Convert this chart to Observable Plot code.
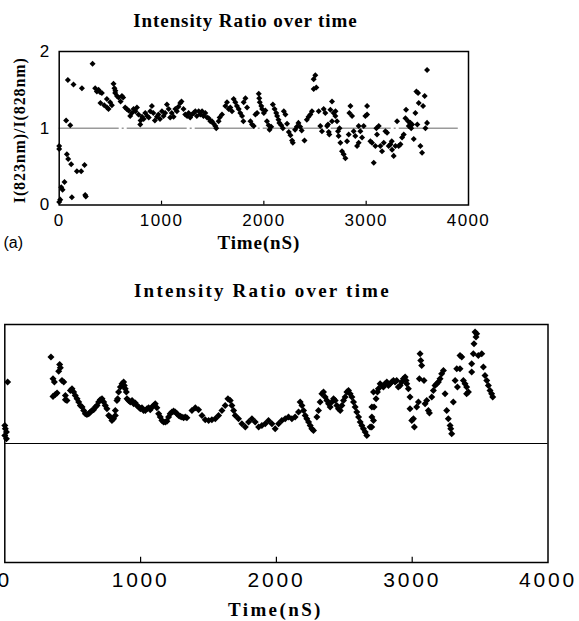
<!DOCTYPE html>
<html><head><meta charset="utf-8">
<script src="https://cdn.jsdelivr.net/npm/d3@7"></script>
<script src="https://cdn.jsdelivr.net/npm/@observablehq/plot@0.6"></script>
<style>
body{margin:0;background:#fff;}
#wrap{position:relative;width:579px;height:621px;overflow:hidden;background:#fff;}
#p1,#p2{position:absolute;left:0;}
#p1{top:0;}
#p2{top:270px;}
#p1 g[aria-label="x-axis tick label"], #p1 g[aria-label="y-axis tick label"]{letter-spacing:1.4px;}
#p2 g[aria-label="x-axis tick label"]{letter-spacing:2.8px;}
</style>
</head><body>
<div id="wrap"><div id="p1"></div><div id="p2"></div></div>
<script>
// ---- data: panel (a) ----
const titleText = "Intensity Ratio over time";
const xLabel = "Time(nS)";
const yLabel = "I(823nm)/I(828nm)";
const xTicks = [0, 1000, 2000, 3000, 4000];
const yTicksA = [0, 1, 2];

const topTime = [0,0,0,10,20,33,52,68,75,85,88,108,117,124,140,173,215,222,248,254,260,326,
352,368,385,400,403,417,440,466,468,482,498,515,531,540,547,549,565,580,600,613,625,645,660,678,694,710,727,745,760,775,792,795,809,825,841,860,875,890,906,920,935,955,970,985,1004,1020,1035,1053,1070,1085,1100,1118,1135,1150,1165,1183,1195,1215,1232,1250,1265,1280,1298,1314,
1330,1345,1363,1380,1396,1410,1428,1445,1461,1477,1493,1510,1526,1535,1558,1568,1591,1624,1640,1656,1672,1689,1705,1721,1737,1754,1770,1787,1800,1803,1820,1836,1869,1885,1901,1918,1934,1950,1955,1960,1975,1983,2000,2015,2030,2047,2056,2072,2088,2105,2121,2130,2143,2152,2170,2186,2195,2211,2227,2244,2260,2276,2283,2305,2322,2338,2355,2370,2397,2420,2437,2454,2470,2487,2503,2487,2513,2536,2552,2568,2585,2601,2618,2634,
2627,2640,2650,2666,2666,2682,2699,2700,2715,2725,2731,2740,2748,2764,2780,2797,2813,2829,2836,2846,2862,2878,2894,2911,2927,2927,2943,2960,2976,2992,3009,3009,3041,3057,3074,3090,3100,3106,3123,3139,3155,3172,3188,3204,3220,3237,3250,3253,3269,3286,3302,3318,3335,3351,3367,3384,3390,3410,3416,3432,3440,3449,3465,3481,3491,3500,3507,3514,3530,3546,3556,3572,3579,3595,3595];
const topRatio = [0.77,0.73,0.04,0.07,0.23,0.20,0.30,1.10,0.66,1.63,0.60,1.04,0.53,0.10,1.57,0.44,0.44,1.52,0.52,0.13,0.11,1.84,
1.52,1.48,1.50,1.47,1.33,1.46,1.30,1.38,1.27,1.25,1.34,1.30,1.58,1.52,1.46,1.49,1.42,1.40,1.35,1.42,1.40,1.27,1.25,1.23,1.16,1.20,1.25,1.22,1.27,1.18,1.05,1.10,1.15,1.12,1.20,1.16,1.14,1.22,1.29,1.20,1.10,1.15,1.18,1.12,1.22,1.16,1.20,1.31,1.25,1.14,1.20,1.15,1.25,1.22,1.28,1.33,1.35,1.25,1.18,1.16,1.20,1.14,1.18,1.20,
1.22,1.16,1.22,1.18,1.22,1.16,1.20,1.14,1.13,1.09,1.09,1.06,1.03,1.00,1.09,1.14,1.18,1.29,1.34,1.25,1.27,1.22,1.38,1.34,1.29,1.25,1.20,1.16,1.09,1.34,1.39,1.27,1.09,1.05,1.03,1.18,1.20,1.45,1.39,1.34,1.29,1.25,1.20,1.23,1.09,1.04,0.98,1.02,1.31,1.25,1.20,1.16,1.11,1.07,1.04,1.00,1.22,1.18,1.06,0.95,0.91,0.84,0.81,0.98,1.02,1.07,1.02,0.97,0.84,1.11,1.15,1.18,1.22,1.64,1.69,1.51,1.53,1.22,1.03,0.96,1.25,1.20,1.03,0.95,
1.05,0.92,1.24,1.35,1.09,1.20,1.16,1.22,1.09,0.96,0.90,1.00,0.81,0.70,0.66,0.61,0.83,0.92,1.20,1.29,1.16,0.96,0.90,0.77,0.81,1.03,0.96,0.88,1.03,1.16,1.29,1.18,0.83,0.81,0.55,0.77,1.00,0.92,1.03,0.77,0.70,0.81,0.96,0.94,0.77,0.79,0.83,0.72,0.64,0.77,1.09,0.77,0.79,0.88,0.92,1.13,1.24,1.09,1.03,1.07,1.00,1.05,0.86,1.20,1.48,1.05,1.46,1.33,0.77,0.68,1.29,1.42,1.00,1.07,1.76];

// ---- data: panel (b) ----
const bottomTime = [0,4,12,0,12,21,340,404,409,397,355,365,421,434,355,372,385,446,446,458,483,495,507,519,532,544,556,569,581,593,605,618,630,642,654,667,679,691,703,716,728,740,752,765,777,789,801,814,814,826,831,838,851,863,875,880,887,895,900,912,924,937,949,961,973,986,998,1010,1022,1035,1047,1059,1071,1084,1096,1108,1120,1133,1145,1157,1169,1182,1194,1206,1218,1231,1243,1255,1268,1280,1292,1304,1317,1329,1341,
1378,1403,1427,1452,1476,1501,1525,1550,1574,1599,1623,1643,1660,1672,1685,1697,1721,1746,1771,1795,1820,1844,1869,1893,1918,1942,1967,1991,2016,2040,2065,2089,2114,2138,2163,2175,2188,2200,2212,2224,2237,2249,2261,2273,2298,2310,2322,2335,2347,2359,2372,2384,2396,2408,2421,2433,2445,2457,2470,2482,2494,2506,2519,2531,2543,2556,2568,2580,2592,2605,2617,2629,2641,2654,2666,2690,2703,2703,2715,
2702,2715,2719,2734,2744,2751,2764,2776,2788,2800,2813,2825,2837,2849,2862,2874,2886,2898,2911,2923,2935,2948,2955,2960,2972,2984,2984,2997,3009,3016,3033,3046,3058,3063,3070,3053,3087,3095,3107,3119,3127,3144,3156,3168,3181,3193,3205,3217,3230,3242,3254,3266,3279,3284,3291,3303,3316,3328,3333,3352,3365,3352,3377,3389,3401,3414,3401,3438,3438,3450,3455,3470,3475,3463,3487,3512,3524,3536,3549,3561,3573,3585,3593];
const bottomRatio = [1.152,1.124,1.096,1.068,1.040,1.516,1.726,1.664,1.636,1.608,1.544,1.516,1.530,1.516,1.396,1.412,1.424,1.404,1.368,1.362,1.446,1.460,1.432,1.404,1.376,1.348,1.320,1.306,1.278,1.250,1.244,1.250,1.264,1.278,1.284,1.306,1.320,1.348,1.368,1.376,1.348,1.320,1.292,1.236,1.222,1.194,1.208,1.278,1.236,1.362,1.376,1.432,1.474,1.502,1.516,1.488,1.460,1.432,1.376,1.362,1.348,1.362,1.334,1.340,1.320,1.306,1.292,1.300,1.278,1.278,1.292,1.300,1.284,1.306,1.320,1.334,1.300,1.250,1.222,1.194,1.180,1.180,1.188,1.222,1.250,1.264,1.272,1.264,1.250,1.236,1.228,1.222,1.216,1.222,1.216,
1.278,1.300,1.284,1.236,1.200,1.194,1.200,1.208,1.236,1.278,1.320,1.376,1.362,1.320,1.278,1.236,1.208,1.166,1.138,1.180,1.208,1.180,1.138,1.152,1.166,1.194,1.166,1.124,1.166,1.194,1.208,1.222,1.208,1.222,1.264,1.348,1.320,1.278,1.236,1.208,1.180,1.152,1.124,1.110,1.222,1.278,1.348,1.418,1.432,1.390,1.362,1.334,1.306,1.348,1.376,1.362,1.320,1.292,1.278,1.320,1.362,1.390,1.432,1.446,1.418,1.390,1.348,1.306,1.264,1.222,1.180,1.152,1.124,1.096,1.068,1.138,1.222,1.306,1.432,
1.138,1.194,1.306,1.376,1.432,1.460,1.502,1.488,1.474,1.502,1.516,1.488,1.502,1.516,1.530,1.516,1.530,1.474,1.488,1.516,1.544,1.558,1.530,1.502,1.460,1.390,1.292,1.194,1.208,1.138,1.306,1.348,1.754,1.698,1.656,1.544,1.530,1.334,1.362,1.278,1.256,1.390,1.446,1.488,1.502,1.516,1.544,1.586,1.614,1.418,1.278,1.208,1.152,1.124,1.082,1.348,1.530,1.628,1.474,1.740,1.726,1.628,1.530,1.502,1.474,1.432,1.418,1.600,1.670,1.754,1.838,1.894,1.922,1.936,1.740,1.754,1.642,1.572,1.530,1.488,1.446,1.418,1.390];

const topData = topTime.map((t, i) => ({t, v: topRatio[i]}));
const bottomData = bottomTime.map((t, i) => ({t, v: bottomRatio[i]}));

const serif = "'Liberation Serif', 'Times New Roman', serif";
const sans = "'Liberation Sans', Arial, sans-serif";

// ---- panel (a) ----
const p1 = Plot.plot({
  width: 579, height: 262,
  marginLeft: 58.7, marginRight: 111, marginTop: 51, marginBottom: 57.5,
  x: {domain: [0, 4000]},
  y: {domain: [0, 2]},
  style: {fontFamily: sans, background: "white", color: "black", overflow: "visible"},
  marks: [
    Plot.ruleY([1], {x1: 0, x2: 3900, stroke: "#9a9a9a", strokeWidth: 1.3, strokeDasharray: "60,3,2,3"}),
    Plot.ruleX([1000, 2000, 3000], {y1: 0, y2: 0.05, stroke: "black", strokeWidth: 1.2}),
    Plot.frame({stroke: "black", strokeWidth: 1.5}),
    Plot.axisX({ticks: xTicks, tickSize: 0, tickPadding: 8.5, fontSize: 17, label: null, tickFormat: d => String(d)}),
    Plot.axisY({ticks: yTicksA, tickSize: 0, tickPadding: 8.5, fontSize: 17, label: null, tickFormat: d => String(d)}),
    Plot.dot(topData, {x: "t", y: "v", symbol: "square", rotate: 45, fill: "black", stroke: "none", r: 2.4}),
    Plot.text([titleText], {text: d => d, frameAnchor: "top", dx: -18.4, dy: -31, lineAnchor: "middle",
      fontFamily: serif, fontWeight: "bold", fontSize: 19}),
    Plot.text([xLabel], {text: d => d, frameAnchor: "bottom", dx: -5, dy: 38, lineAnchor: "middle",
      fontFamily: serif, fontWeight: "bold", fontSize: 19}),
    Plot.text(["(a)"], {text: d => d, frameAnchor: "bottom-left", dx: -55.7, dy: 38, textAnchor: "start", lineAnchor: "middle",
      fontFamily: sans, fontSize: 16}),
    Plot.text([yLabel], {text: d => d, frameAnchor: "left", dx: -39.2, dy: 2, rotate: -90, lineAnchor: "middle", textAnchor: "middle",
      fontFamily: serif, fontWeight: "bold", fontSize: 16})
  ]
});
document.getElementById("p1").appendChild(p1);

// ---- panel (b) ----
const p2 = Plot.plot({
  width: 579, height: 351,
  marginLeft: 4.3, marginRight: 31.5, marginTop: 54, marginBottom: 59,
  x: {domain: [0, 4000]},
  y: {domain: [0, 2], axis: null},
  style: {fontFamily: sans, background: "white", color: "black", overflow: "visible"},
  marks: [
    Plot.ruleY([1], {stroke: "black", strokeWidth: 1.2}),
    Plot.ruleX([1000, 2000, 3000], {y1: 0, y2: 0.045, stroke: "black", strokeWidth: 1.2}),
    Plot.frame({stroke: "black", strokeWidth: 1.5}),
    Plot.axisX({ticks: xTicks, tickSize: 0, tickPadding: 9.5, fontSize: 21, label: null, tickFormat: d => String(d)}),
    Plot.dot(bottomData, {x: "t", y: "v", symbol: "square", rotate: 45, fill: "black", stroke: "none", r: 2.8}),
    Plot.text([titleText], {text: d => d, frameAnchor: "top", dx: -14, dy: -34, lineAnchor: "middle",
      fontFamily: serif, fontWeight: "bold", fontSize: 19}),
    Plot.text([xLabel], {text: d => d, frameAnchor: "bottom", dx: -1, dy: 47.4, lineAnchor: "middle",
      fontFamily: serif, fontWeight: "bold", fontSize: 19})
  ]
});
document.getElementById("p2").appendChild(p2);

// letter spacing of the serif labels (matches the spaced-out reference type)
function spaceText(svg, content, ls) {
  d3.select(svg).selectAll("text").filter(function() { return this.textContent === content; })
    .style("letter-spacing", ls + "px");
}
spaceText(p1, titleText, 0.9);
spaceText(p1, xLabel, 0.9);
spaceText(p1, yLabel, 0.9);
spaceText(p2, titleText, 2.2);
spaceText(p2, xLabel, 2.4);
</script>
</body></html>
